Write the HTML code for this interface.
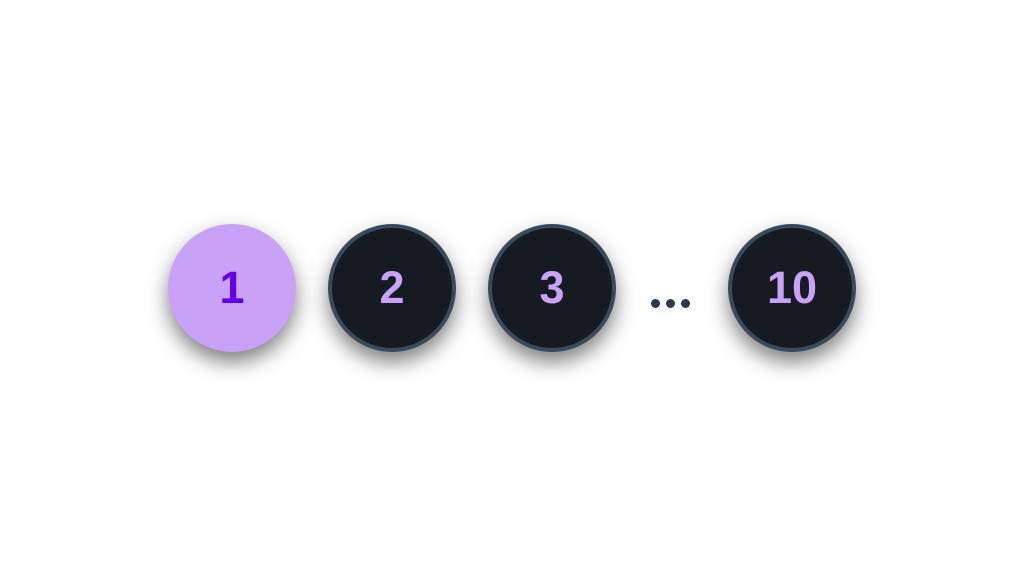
<!DOCTYPE html>
<html><head><style>
body{margin:0;width:1024px;height:576px;background:#fff;position:relative;overflow:hidden;font-family:"Liberation Sans",sans-serif}
.c{position:absolute;top:224px;width:128px;height:128px;border-radius:50%;box-sizing:border-box;display:flex;align-items:center;justify-content:center;font-weight:bold;font-size:45px;box-shadow:0 10px 20px rgba(0,0,0,0.5)}
.d{background:#161a21;border:4px solid #3a4a5a;color:#c8a2f6}
.dot{position:absolute;top:299px;width:9px;height:9px;border-radius:50%;background:#2b3a4a}
</style></head><body>
<div class="c" style="left:168px;background:#c8a2f6;color:#6200ee">1</div>
<div class="c d" style="left:328px">2</div>
<div class="c d" style="left:488px">3</div>
<div class="dot" style="left:651px"></div>
<div class="dot" style="left:666px"></div>
<div class="dot" style="left:681px"></div>
<div class="c d" style="left:728px">10</div>
</body></html>
